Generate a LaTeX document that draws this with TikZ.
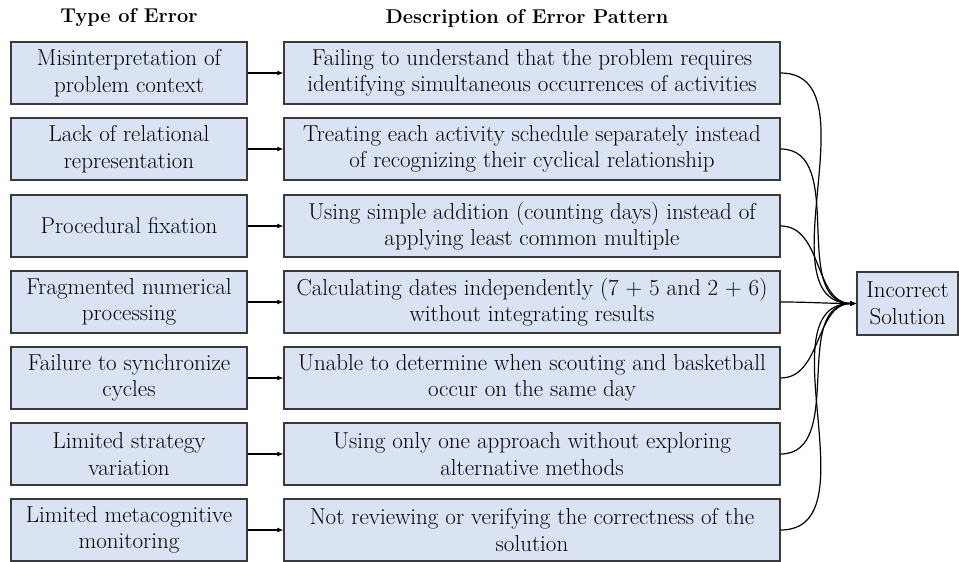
\documentclass[tikz,border=0pt]{standalone}
\usetikzlibrary{arrows.meta}
\definecolor{boxfill}{HTML}{DAE3F3}
\definecolor{boxline}{HTML}{3A3A3A}
\tikzset{
  errbox/.style={draw=boxline, fill=boxfill, line width=1.1pt, align=center,
    inner sep=0pt, font=\fontsize{23}{26.5}\selectfont},
  typebox/.style={errbox, minimum width=236pt, minimum height=62pt},
  descbox/.style={errbox, minimum width=496pt, minimum height=62pt},
  solbox/.style={errbox, minimum width=101pt, minimum height=63pt},
  header/.style={font=\fontsize{20}{24}\selectfont\bfseries},
  link/.style={line width=1.2pt, -{Latex[length=6pt,width=5pt]}},
}
\begin{document}
\begin{tikzpicture}[x=1pt, y=-1pt]
\useasboundingbox (0,0) rectangle (959,562);

\node[header] (h1) at (129,18) {Type of Error};
\node[header] (h2) at (527,18) {Description of Error Pattern};

\node[typebox] (t1) at (129,73)  {Misinterpretation of\\problem context};
\node[typebox] (t2) at (129,149) {Lack of relational\\representation};
\node[typebox] (t3) at (129,226) {Procedural fixation};
\node[typebox] (t4) at (129,302) {Fragmented numerical\\processing};
\node[typebox] (t5) at (129,378) {Failure to synchronize\\cycles};
\node[typebox] (t6) at (129,454) {Limited strategy\\variation};
\node[typebox] (t7) at (129,530) {Limited metacognitive\\monitoring};

\node[descbox] (d1) at (532,73)  {Failing to understand that the problem requires\\identifying simultaneous occurrences of activities};
\node[descbox] (d2) at (532,149) {Treating each activity schedule separately instead\\of recognizing their cyclical relationship};
\node[descbox] (d3) at (532,226) {Using simple addition (counting days) instead of\\applying least common multiple};
\node[descbox] (d4) at (532,302) {Calculating dates independently (7 + 5 and 2 + 6)\\without integrating results};
\node[descbox] (d5) at (532,378) {Unable to determine when scouting and basketball\\occur on the same day};
\node[descbox] (d6) at (532,454) {Using only one approach without exploring\\alternative methods};
\node[descbox] (d7) at (532,530) {Not reviewing or verifying the correctness of the\\solution};

\node[solbox] (sol) at (907.5,303.5) {Incorrect\\Solution};

\foreach \i in {1,...,7}{
  \draw[link] (t\i.east) -- (d\i.west);
  \draw[link] (d\i.east) to[out=0,in=180] (sol.west);
}
\end{tikzpicture}
\end{document}
